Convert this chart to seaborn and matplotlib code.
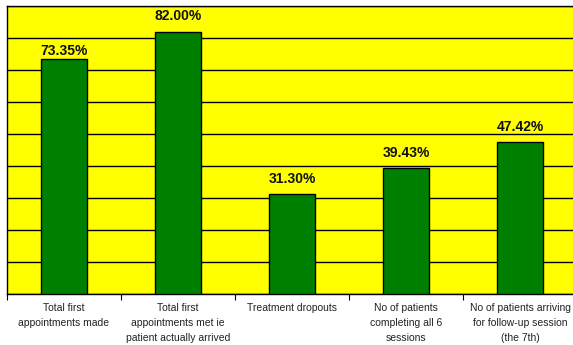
import matplotlib
matplotlib.use("Agg")
import matplotlib.pyplot as plt
import seaborn as sns
import pandas as pd

categories = [
    "Total first\nappointments made",
    "Total first\nappointments met ie\npatient actually arrived",
    "Treatment dropouts",
    "No of patients\ncompleting all 6\nsessions",
    "No of patients arriving\nfor follow-up session\n(the 7th)",
]
values = [73.35, 82.00, 31.30, 39.43, 47.42]
value_labels = ["73.35%", "82.00%", "31.30%", "39.43%", "47.42%"]

df = pd.DataFrame({"category": categories, "value": values})

sns.set_theme(style="white")
plt.rcParams["font.family"] = ["Liberation Sans", "DejaVu Sans"]

fig = plt.figure(figsize=(5.73, 3.45), dpi=100)
ax = fig.add_axes([7 / 573, 51 / 345, 570 / 573, 288 / 345])
ax.set_facecolor("#FFFF00")

sns.barplot(data=df, x="category", y="value", color="#008000", width=0.41,
            edgecolor="black", linewidth=1.0, saturation=1, ax=ax, zorder=3)

ax.set_ylim(0, 90)
ax.set_xlim(-0.5, len(categories) - 0.5)
ax.set_yticks(range(0, 91, 10))
ax.set_yticklabels([])
ax.yaxis.grid(True, color="black", linewidth=1.0, zorder=1)
ax.set_axisbelow(True)
ax.tick_params(axis="y", length=0)

# category boundary ticks on the x-axis
ax.set_xticks([i - 0.5 for i in range(len(categories) + 1)])
ax.set_xticklabels([])
ax.tick_params(axis="x", length=4, width=0.8, color="black", direction="out", bottom=True)
for i, cat in enumerate(categories):
    ax.text(i, -2.9, cat, ha="center", va="top", fontsize=7.5, linespacing=1.62,
            color="#222222")

# value labels sit above each bar; the first one hugs its bar more closely
label_gap = [0.3, 2.6, 2.6, 2.6, 2.6]
for i, (v, lab) in enumerate(zip(values, value_labels)):
    ax.text(i, v + label_gap[i], lab, ha="center", va="bottom", fontsize=10,
            fontweight="bold", color="#111111")

for side in ["left", "bottom", "top", "right"]:
    ax.spines[side].set_color("black")
    ax.spines[side].set_linewidth(1.0)

ax.set_xlabel("")
ax.set_ylabel("")

fig.savefig("out.png", dpi=100)
